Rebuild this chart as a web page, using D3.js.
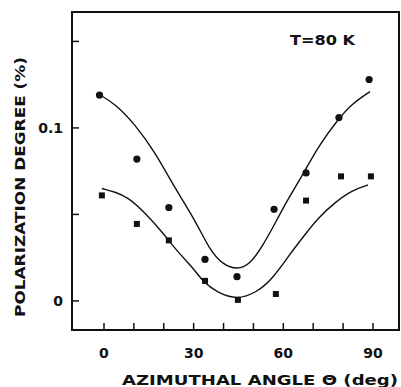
<!DOCTYPE html>
<html>
<head>
<meta charset="utf-8">
<script src="https://cdn.jsdelivr.net/npm/d3@7"></script>
<style>
 body { margin: 0; background: #fff; }
 text { font-family: "DejaVu Sans", "Liberation Sans", sans-serif; font-weight: bold; fill: #111; }
</style>
</head>
<body>
<div id="chart"></div>
<script>
//Measured points (angle in deg, polarization degree in %).
var circleAngles = [-1.5, 11, 21.7, 33.8, 44.5, 56.9, 67.6, 78.6, 88.7];
var circleValues = [0.119, 0.082, 0.054, 0.024, 0.014, 0.053, 0.074, 0.106, 0.128];

var squareAngles = [-0.7, 11, 21.7, 33.8, 44.8, 57.5, 67.6, 79.3, 89.3];
var squareValues = [0.061, 0.0445, 0.035, 0.0116, 0.0006, 0.004, 0.058, 0.072, 0.072];

//Fitted curves.
var upperCurveAngles = [-1.3, 3.7, 10.4, 17.1, 23.8, 30.4, 35.5, 39.8, 44.5, 48.8, 53.2, 57.9, 61.6, 67.2, 71.6, 78.3, 83.0, 89.0];
var upperCurveValues = [0.119, 0.114, 0.102, 0.086, 0.065, 0.047, 0.029, 0.021, 0.018, 0.021, 0.032, 0.047, 0.059, 0.075, 0.089, 0.105, 0.114, 0.121];

var lowerCurveAngles = [-0.7, 3.7, 8.0, 13.7, 19.4, 24.8, 30.4, 33.1, 37.8, 44.5, 51.2, 56.5, 62.2, 66.2, 71.6, 77.3, 83.0, 88.3];
var lowerCurveValues = [0.065, 0.063, 0.060, 0.051, 0.040, 0.028, 0.018, 0.011, 0.005, 0.0006, 0.005, 0.013, 0.027, 0.036, 0.048, 0.057, 0.064, 0.067];

//Axis ticks.
var xTicks = [0, 10, 20, 30, 40, 50, 60, 70, 80, 90];
var xTickLabels = [0, 30, 60, 90];
var yTicks = [0, 0.05, 0.1, 0.15];
var yTickLabels = [0, 0.1];

var width = 401, height = 387;
var plotLeft = 72, plotRight = 399, plotTop = 12, plotBottom = 330;

var svg = d3.select("#chart").append("svg").attr("width", width).attr("height", height);

var x = d3.scaleLinear().domain([-10.7, 98.7]).range([plotLeft, plotRight]);
var y = d3.scaleLinear().domain([-0.0168, 0.167]).range([plotBottom, plotTop]);

//Frame
svg.append("rect").attr("x", plotLeft).attr("y", plotTop)
 .attr("width", plotRight - plotLeft).attr("height", plotBottom - plotTop)
 .attr("fill", "none").attr("stroke", "#111").attr("stroke-width", 2);

//Ticks pointing inward
var tickLen = 7;
svg.selectAll(".xt").data(xTicks).enter().append("line")
 .attr("x1", function(d) { return x(d); }).attr("x2", function(d) { return x(d); })
 .attr("y1", plotBottom).attr("y2", plotBottom - tickLen)
 .attr("stroke", "#111").attr("stroke-width", 1.5);

svg.selectAll(".yt").data(yTicks).enter().append("line")
 .attr("x1", plotLeft).attr("x2", plotLeft + tickLen)
 .attr("y1", function(d) { return y(d); }).attr("y2", function(d) { return y(d); })
 .attr("stroke", "#111").attr("stroke-width", 1.5);

//Tick labels
svg.selectAll(".xl").data(xTickLabels).enter().append("text")
 .attr("x", function(d) { return x(d); }).attr("y", 358)
 .attr("text-anchor", "middle").attr("font-size", 14)
 .text(function(d) { return d; });

svg.selectAll(".yl").data(yTickLabels).enter().append("text")
 .attr("x", 63).attr("y", function(d) { return y(d) + 5; })
 .attr("text-anchor", "end").attr("font-size", 14)
 .text(function(d) { return d; });

//Axis titles
svg.append("text").attr("x", 122).attr("y", 385)
 .attr("font-size", 14).attr("textLength", 276).attr("lengthAdjust", "spacingAndGlyphs")
 .text("AZIMUTHAL  ANGLE  \u0398  (deg)");

svg.append("text").attr("transform", "translate(25,317) rotate(-90)")
 .attr("font-size", 14).attr("textLength", 260).attr("lengthAdjust", "spacingAndGlyphs")
 .text("POLARIZATION  DEGREE  (%)");

svg.append("text").attr("x", 290).attr("y", 45)
 .attr("font-size", 14).attr("textLength", 65).attr("lengthAdjust", "spacingAndGlyphs")
 .text("T=80 K");

//Curves
var line = d3.line()
 .x(function(d) { return x(d[0]); })
 .y(function(d) { return y(d[1]); })
 .curve(d3.curveBasis);

svg.append("path").datum(d3.zip(upperCurveAngles, upperCurveValues))
 .attr("d", line).attr("fill", "none").attr("stroke", "#111").attr("stroke-width", 1.4);

svg.append("path").datum(d3.zip(lowerCurveAngles, lowerCurveValues))
 .attr("d", line).attr("fill", "none").attr("stroke", "#111").attr("stroke-width", 1.4);

//Points
svg.selectAll(".circ").data(d3.zip(circleAngles, circleValues)).enter().append("circle")
 .attr("cx", function(d) { return x(d[0]); })
 .attr("cy", function(d) { return y(d[1]); })
 .attr("r", 3.6).attr("fill", "#111");

var sq = 6;
svg.selectAll(".sq").data(d3.zip(squareAngles, squareValues)).enter().append("rect")
 .attr("x", function(d) { return x(d[0]) - sq / 2; })
 .attr("y", function(d) { return y(d[1]) - sq / 2; })
 .attr("width", sq).attr("height", sq).attr("fill", "#111");
</script>
</body>
</html>
